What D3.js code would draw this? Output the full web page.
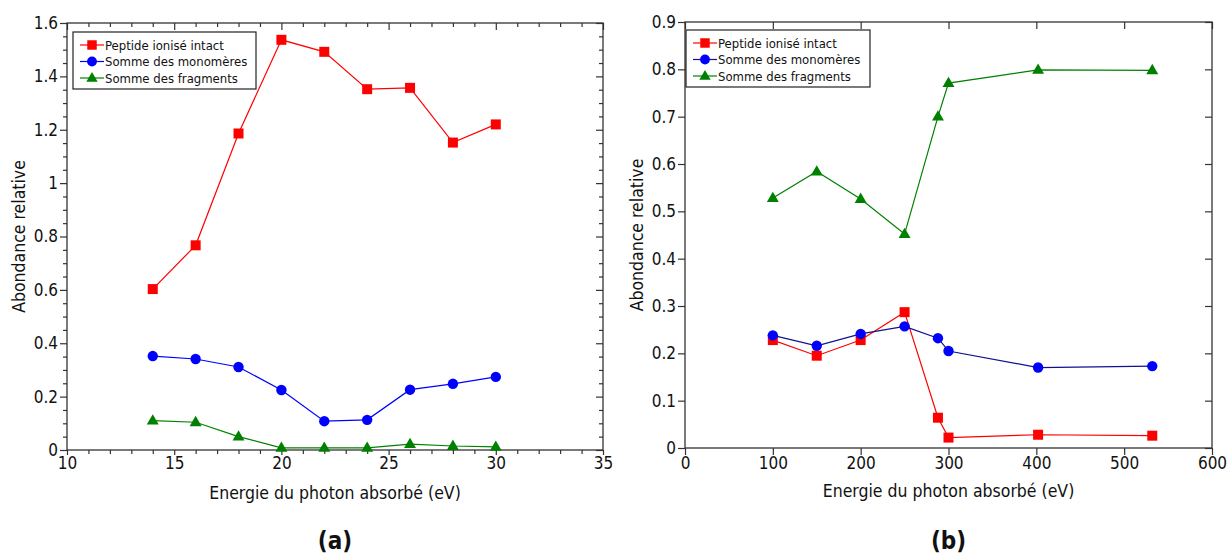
<!DOCTYPE html>
<html>
<head>
<meta charset="utf-8">
<script src="https://cdn.jsdelivr.net/npm/d3@7"></script>
<style>
  html, body { margin: 0; padding: 0; background: #fff; }
  svg { display: block; }
  text { font-family: "DejaVu Sans Condensed", "DejaVu Sans", Verdana, sans-serif; fill: #111; }
</style>
</head>
<body>
<svg id="chart" width="1228" height="555"></svg>
<script>
// ---------- Data ----------
const seriesNames = ["Peptide ionisé intact", "Somme des monomères", "Somme des fragments"];

// Panel (a)
const energyA = [14, 16, 18, 20, 22, 24, 26, 28, 30];
const peptideA = [0.603, 0.767, 1.186, 1.537, 1.492, 1.352, 1.357, 1.152, 1.220];
const monomerA = [0.352, 0.341, 0.311, 0.225, 0.108, 0.113, 0.226, 0.248, 0.274];
const fragmentA = [0.110, 0.104, 0.050, 0.008, 0.008, 0.008, 0.022, 0.015, 0.012];
const xTicksA = [10, 15, 20, 25, 30, 35];
const yTicksA = [0, 0.2, 0.4, 0.6, 0.8, 1, 1.2, 1.4, 1.6];

// Panel (b)
const energyB = [100, 150, 200, 250, 288, 300, 402, 532];
const peptideB = [0.228, 0.195, 0.228, 0.287, 0.064, 0.022, 0.028, 0.026];
const monomerB = [0.238, 0.216, 0.241, 0.257, 0.232, 0.205, 0.170, 0.173];
const fragmentB = [0.528, 0.584, 0.526, 0.452, 0.700, 0.771, 0.799, 0.798];
const xTicksB = [0, 100, 200, 300, 400, 500, 600];
const yTicksB = [0, 0.1, 0.2, 0.3, 0.4, 0.5, 0.6, 0.7, 0.8, 0.9];

const xLabel = "Energie du photon absorbé (eV)";
const yLabel = "Abondance relative";
const panelLabels = ["(a)", "(b)"];

// ---------- Drawing ----------
const svg = d3.select("#chart");
const colors = ["#ff0000", "#0000ff", "#008000"];
const markers = [d3.symbolSquare, d3.symbolCircle, d3.symbolTriangle];
const markerSizes = [100, 85, 62];

function fmt(v) { return d3.format("~g")(v); }

function panel(cfg) {
  const { left, right, top, bottom, xDomain, yDomain, xTicks, yTicks, xMinor, yMinor,
          xs, series, label, legend, lineColors, majorLen, bottomMajorLen } = cfg;
  const x = d3.scaleLinear().domain(xDomain).range([left, right]);
  const y = d3.scaleLinear().domain(yDomain).range([bottom, top]);
  const g = svg.append("g");

  // frame
  g.append("rect").attr("x", left).attr("y", top)
    .attr("width", right - left).attr("height", bottom - top)
    .attr("fill", "none").attr("stroke", "#333").attr("stroke-width", 1.3);

  // axes
  const axB = d3.axisBottom(x).tickValues(xTicks).tickFormat(fmt).tickSize(bottomMajorLen).tickPadding(2);
  const axL = d3.axisLeft(y).tickValues(yTicks).tickFormat(fmt).tickSize(majorLen).tickPadding(2);
  const axT = d3.axisBottom(x).tickValues(xTicks).tickFormat("").tickSize(majorLen);
  const axR = d3.axisLeft(y).tickValues(yTicks).tickFormat("").tickSize(majorLen);

  g.append("g").attr("transform", `translate(0,${bottom})`).call(axB);
  g.append("g").attr("transform", `translate(${left},0)`).call(axL);
  g.append("g").attr("transform", `translate(0,${top})`).call(axT);
  g.append("g").attr("transform", `translate(${right},0)`).call(axR);

  if (xMinor) {
    g.append("g").attr("transform", `translate(0,${bottom})`)
      .call(d3.axisBottom(x).tickValues(xMinor).tickFormat("").tickSize(4));
    g.append("g").attr("transform", `translate(0,${top})`)
      .call(d3.axisBottom(x).tickValues(xMinor).tickFormat("").tickSize(4));
  }
  if (yMinor) {
    g.append("g").attr("transform", `translate(${left},0)`)
      .call(d3.axisLeft(y).tickValues(yMinor).tickFormat("").tickSize(4));
    g.append("g").attr("transform", `translate(${right},0)`)
      .call(d3.axisLeft(y).tickValues(yMinor).tickFormat("").tickSize(4));
  }
  g.selectAll(".domain").remove();
  g.selectAll(".tick line").attr("stroke", "#333").attr("stroke-width", 1.2);
  g.selectAll(".tick text").attr("font-size", 17).attr("fill", "#111")
    .attr("font-family", '"DejaVu Sans Condensed", "DejaVu Sans", sans-serif');

  // series
  series.forEach((vals, i) => {
    const pts = xs.map((xv, j) => [xv, vals[j]]);
    const line = d3.line().x(d => x(d[0])).y(d => y(d[1]));
    g.append("path").datum(pts).attr("d", line)
      .attr("fill", "none").attr("stroke", lineColors[i]).attr("stroke-width", 1.2);
    g.selectAll(null).data(pts).enter().append("path")
      .attr("d", d3.symbol().type(markers[i]).size(markerSizes[i]))
      .attr("transform", d => `translate(${x(d[0])},${y(d[1]) + (i === 2 ? 0.5 : 0)})`)
      .attr("fill", colors[i]);
  });

  // legend
  const lg = g.append("g");
  lg.append("rect").attr("x", legend.x).attr("y", legend.y)
    .attr("width", legend.w).attr("height", legend.h)
    .attr("fill", "#fff").attr("stroke", "#222").attr("stroke-width", 1.2);
  seriesNames.forEach((name, i) => {
    const cy = legend.y + 13 + i * 16.5;
    lg.append("line").attr("x1", legend.x + 7).attr("x2", legend.x + 31)
      .attr("y1", cy).attr("y2", cy).attr("stroke", lineColors[i]).attr("stroke-width", 1.2);
    lg.append("path").attr("d", d3.symbol().type(markers[i]).size(markerSizes[i] * 0.9))
      .attr("transform", `translate(${legend.x + 19},${cy + (i === 2 ? 0.5 : 0)})`)
      .attr("fill", colors[i]);
    lg.append("text").attr("x", legend.x + 32).attr("y", cy + 4.5)
      .attr("font-size", 13).text(name);
  });

  // axis titles
  const cx = (left + right) / 2;
  g.append("text").attr("x", cx).attr("y", bottom + 49)
    .attr("text-anchor", "middle").attr("font-size", 17.5).text(xLabel);
  g.append("text").attr("transform", `translate(${left - 42},${(top + bottom) / 2}) rotate(-90)`)
    .attr("text-anchor", "middle").attr("font-size", 17.5).text(yLabel);
  g.append("text").attr("x", cx).attr("y", 549)
    .attr("text-anchor", "middle").attr("font-size", 24).attr("font-weight", "bold")
    .attr("font-family", '"DejaVu Sans", sans-serif').text(label);
}

const xMinorA = d3.range(10, 35.001, 1).filter(v => v % 5 !== 0);
const yMinorA = d3.range(0, 1.6001, 0.05).map(v => +v.toFixed(2))
  .filter(v => Math.abs(v * 5 - Math.round(v * 5)) > 1e-6);

panel({
  left: 67, right: 603, top: 23, bottom: 450,
  xDomain: [10, 35], yDomain: [0, 1.6],
  xTicks: xTicksA, yTicks: yTicksA, xMinor: xMinorA, yMinor: yMinorA,
  xs: energyA, series: [peptideA, monomerA, fragmentA],
  lineColors: ["#ff0000", "#0000ff", "#008000"],
  label: panelLabels[0], majorLen: 7, bottomMajorLen: 5,
  legend: { x: 73, y: 32, w: 183, h: 57 }
});

panel({
  left: 685, right: 1212, top: 22, bottom: 448,
  xDomain: [0, 600], yDomain: [0, 0.9],
  xTicks: xTicksB, yTicks: yTicksB, xMinor: null, yMinor: null,
  xs: energyB, series: [peptideB, monomerB, fragmentB],
  lineColors: ["#ff0000", "#101090", "#008000"],
  label: panelLabels[1], majorLen: 7, bottomMajorLen: 7,
  legend: { x: 686, y: 30, w: 184, h: 57 }
});
</script>
</body>
</html>
